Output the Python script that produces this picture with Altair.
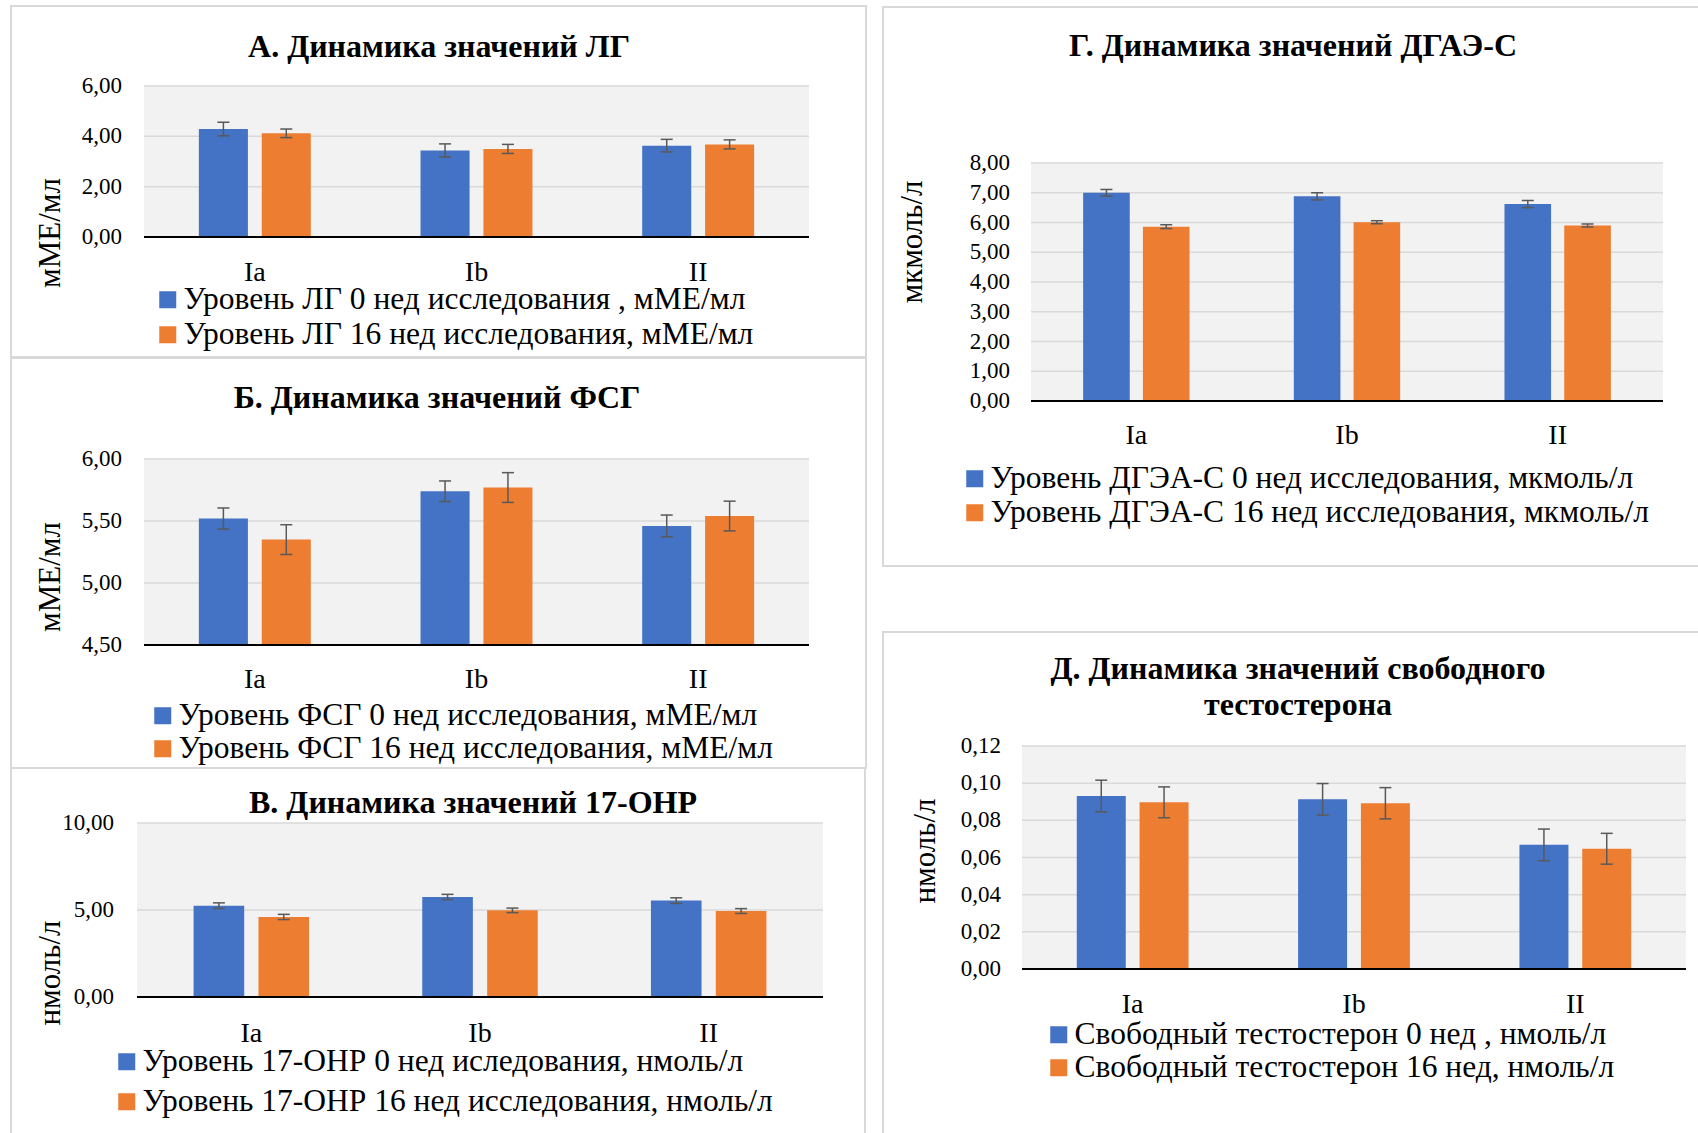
import altair as alt
import pandas as pd

FONT = "Liberation Serif"
BLUE = "#4472C4"
ORANGE = "#ED7D31"
ERR = "#595959"
GRID = "#D9D9D9"
PLOT_BG = "#F2F2F2"
FRAME = "#D9D9D9"

groups = ["Ia", "Ib", "II"]

# А. ЛГ, мМЕ/мл
lh_0 = [4.29, 3.44, 3.63]
lh_16 = [4.12, 3.50, 3.68]
lh_err_0 = [0.27, 0.26, 0.25]
lh_err_16 = [0.17, 0.18, 0.18]
lh_ticks = [0, 2, 4, 6]
lh_tick_labels = ["0,00", "2,00", "4,00", "6,00"]
lh_series = ["Уровень ЛГ 0 нед исследования , мМЕ/мл",
             "Уровень ЛГ 16 нед исследования, мМЕ/мл"]

# Б. ФСГ, мМЕ/мл
fsh_0 = [5.52, 5.74, 5.46]
fsh_16 = [5.35, 5.77, 5.54]
fsh_err_0 = [0.085, 0.083, 0.088]
fsh_err_16 = [0.12, 0.12, 0.12]
fsh_ticks = [4.5, 5.0, 5.5, 6.0]
fsh_tick_labels = ["4,50", "5,00", "5,50", "6,00"]
fsh_series = ["Уровень ФСГ 0 нед исследования, мМЕ/мл",
              "Уровень ФСГ 16 нед исследования, мМЕ/мл"]

# В. 17-ОНР, нмоль/л
ohp_0 = [5.25, 5.75, 5.54]
ohp_16 = [4.60, 4.98, 4.94]
ohp_err_0 = [0.16, 0.15, 0.16]
ohp_err_16 = [0.15, 0.13, 0.14]
ohp_ticks = [0, 5, 10]
ohp_tick_labels = ["0,00", "5,00", "10,00"]
ohp_series = ["Уровень 17-ОНР 0 нед иследования, нмоль/л",
              "Уровень 17-ОНР 16 нед исследования, нмоль/л"]

# Г. ДГЭА-С, мкмоль/л
dhea_0 = [7.00, 6.88, 6.62]
dhea_16 = [5.86, 6.01, 5.90]
dhea_err_0 = [0.11, 0.12, 0.12]
dhea_err_16 = [0.065, 0.05, 0.05]
dhea_ticks = [0, 1, 2, 3, 4, 5, 6, 7, 8]
dhea_tick_labels = ["0,00", "1,00", "2,00", "3,00", "4,00",
                    "5,00", "6,00", "7,00", "8,00"]
dhea_series = ["Уровень ДГЭА-С 0 нед исследования, мкмоль/л",
               "Уровень ДГЭА-С 16 нед исследования, мкмоль/л"]

# Д. Свободный тестостерон, нмоль/л
ft_0 = [0.0931, 0.0913, 0.0668]
ft_16 = [0.0897, 0.0892, 0.0647]
ft_err_0 = [0.0085, 0.0085, 0.0085]
ft_err_16 = [0.0083, 0.0084, 0.0083]
ft_ticks = [0.0, 0.02, 0.04, 0.06, 0.08, 0.10, 0.12]
ft_tick_labels = ["0,00", "0,02", "0,04", "0,06", "0,08", "0,10", "0,12"]
ft_series = ["Свободный тестостерон 0 нед , нмоль/л",
             "Свободный тестостерон 16 нед, нмоль/л"]

# Panel geometry on the page (pixels)
panels = [
    dict(v0=lh_0, v1=lh_16, e0=lh_err_0, e1=lh_err_16, ticks=lh_ticks,
         tick_labels=lh_tick_labels, series=lh_series,
         title=["А. Динамика значений ЛГ"], ytitle="мМЕ/мл",
         frame=(11, 6, 866, 357), plot=(144, 86, 809, 237), tick_x=122,
         title_xy=(439, 57), ytitle_xy=(51, 233), cat_y=281,
         legend_xy=(152, 284), row_pad=2, label_off=0),
    dict(v0=fsh_0, v1=fsh_16, e0=fsh_err_0, e1=fsh_err_16, ticks=fsh_ticks,
         tick_labels=fsh_tick_labels, series=fsh_series,
         title=["Б. Динамика значений ФСГ"], ytitle="мМЕ/мл",
         frame=(11, 358, 866, 768), plot=(144, 459, 809, 645), tick_x=122,
         title_xy=(437, 408), ytitle_xy=(51, 577), cat_y=688,
         legend_xy=(147, 700), row_pad=0, label_off=0),
    dict(v0=ohp_0, v1=ohp_16, e0=ohp_err_0, e1=ohp_err_16, ticks=ohp_ticks,
         tick_labels=ohp_tick_labels, series=ohp_series,
         title=["В. Динамика значений 17-ОНР"], ytitle="нмоль/л",
         frame=(11, 768, 865, 1160), plot=(137, 823, 823, 997), tick_x=114,
         title_xy=(473, 813), ytitle_xy=(51, 973), cat_y=1042,
         legend_xy=(111, 1046), row_pad=7, label_off=0),
    dict(v0=dhea_0, v1=dhea_16, e0=dhea_err_0, e1=dhea_err_16, ticks=dhea_ticks,
         tick_labels=dhea_tick_labels, series=dhea_series,
         title=["Г. Динамика значений ДГАЭ-С"], ytitle="мкмоль/л",
         frame=(883, 7, 1720, 566), plot=(1031, 163, 1663, 401), tick_x=1010,
         title_xy=(1293, 56), ytitle_xy=(913, 242), cat_y=444,
         legend_xy=(959, 463), row_pad=1, label_off=0),
    dict(v0=ft_0, v1=ft_16, e0=ft_err_0, e1=ft_err_16, ticks=ft_ticks,
         tick_labels=ft_tick_labels, series=ft_series,
         title=["Д. Динамика значений свободного", "тестостерона"], ytitle="нмоль/л",
         frame=(883, 632, 1720, 1160), plot=(1022, 746, 1686, 969), tick_x=1001,
         title_xy=(1298, 679), ytitle_xy=(926, 851), cat_y=1013,
         legend_xy=(1043, 1019), row_pad=0, label_off=0),
]

one = pd.DataFrame({"k": [0]})


def build_panel(p):
    n = len(groups)
    df = pd.DataFrame({
        "group": groups * 2,
        "series": [p["series"][0]] * n + [p["series"][1]] * n,
        "value": p["v0"] + p["v1"],
        "err": p["e0"] + p["e1"],
    })
    df["base"] = p["ticks"][0]
    df["lo"] = df["value"] - df["err"]
    df["hi"] = df["value"] + df["err"]

    ticks = pd.DataFrame({"t": p["ticks"], "lab": p["tick_labels"]})
    cats = pd.DataFrame({"group": groups})

    left, top, right, bottom = p["plot"]
    fl, ft, fr, fb = p["frame"]

    xs = alt.Scale(domain=groups, range=[left, right],
                   paddingInner=0.495, paddingOuter=0.2475)
    ys = alt.Scale(domain=[p["ticks"][0], p["ticks"][-1]], range=[bottom, top],
                   nice=False, zero=False)
    offs = alt.Scale(domain=p["series"], paddingInner=0.22, paddingOuter=0)

    X = alt.X("group:N", scale=xs, axis=None)
    XO = alt.XOffset("series:N", scale=offs)

    frame = alt.Chart(one).mark_rect(
        fillOpacity=0, stroke=FRAME, strokeWidth=2
    ).encode(x=alt.value(fl), x2=alt.value(fr), y=alt.value(ft), y2=alt.value(fb))

    bg = alt.Chart(one).mark_rect(color=PLOT_BG).encode(
        x=alt.value(left), x2=alt.value(right), y=alt.value(top), y2=alt.value(bottom))

    grid = alt.Chart(ticks).mark_rule(color=GRID, strokeWidth=1.5).encode(
        y=alt.Y("t:Q", scale=ys, axis=None), x=alt.value(left), x2=alt.value(right))

    bars = alt.Chart(df).mark_bar().encode(
        x=X, xOffset=XO,
        y=alt.Y("value:Q", scale=ys, axis=None), y2="base:Q",
        color=alt.Color(
            "series:N",
            scale=alt.Scale(domain=p["series"], range=[BLUE, ORANGE]),
            legend=alt.Legend(
                orient="none", legendX=p["legend_xy"][0], legendY=p["legend_xy"][1],
                title=None, symbolType="square", symbolSize=289,
                symbolStrokeWidth=0, symbolOpacity=1, labelFont=FONT,
                labelFontSize=31.5, labelColor="black", labelOffset=p["label_off"],
                rowPadding=p["row_pad"], padding=0, labelLimit=2000,
            ),
        ),
    )

    whisk = alt.Chart(df).mark_rule(color=ERR, strokeWidth=1.5).encode(
        x=X, xOffset=XO, y=alt.Y("lo:Q", scale=ys, axis=None), y2="hi:Q")
    cap_hi = alt.Chart(df).mark_tick(
        color=ERR, thickness=1.5, size=12, orient="horizontal", opacity=1
    ).encode(x=X, xOffset=XO, y=alt.Y("hi:Q", scale=ys, axis=None))
    cap_lo = alt.Chart(df).mark_tick(
        color=ERR, thickness=1.5, size=12, orient="horizontal", opacity=1
    ).encode(x=X, xOffset=XO, y=alt.Y("lo:Q", scale=ys, axis=None))

    baseline = alt.Chart(ticks.head(1)).mark_rule(color="black", strokeWidth=2).encode(
        y=alt.Y("t:Q", scale=ys, axis=None), x=alt.value(left), x2=alt.value(right))

    tick_text = alt.Chart(ticks).mark_text(
        align="right", baseline="middle", font=FONT, fontSize=23, color="black"
    ).encode(y=alt.Y("t:Q", scale=ys, axis=None), x=alt.value(p["tick_x"]), text="lab:N")

    cat_text = alt.Chart(cats).mark_text(
        align="center", baseline="alphabetic", font=FONT, fontSize=28, color="black"
    ).encode(x=X, y=alt.value(p["cat_y"]), text="group:N")

    title_text = p["title"] if len(p["title"]) > 1 else p["title"][0]
    title = alt.Chart(one).mark_text(
        text=title_text, align="center", baseline="alphabetic", font=FONT,
        fontSize=32, fontWeight="bold", lineHeight=36, color="black"
    ).encode(x=alt.value(p["title_xy"][0]), y=alt.value(p["title_xy"][1]))

    ytitle = alt.Chart(one).mark_text(
        text=p["ytitle"], align="center", baseline="middle", angle=270, font=FONT,
        fontSize=31, color="black"
    ).encode(x=alt.value(p["ytitle_xy"][0]), y=alt.value(p["ytitle_xy"][1]))

    return alt.layer(frame, bg, grid, bars, whisk, cap_hi, cap_lo, baseline,
                     tick_text, cat_text, title, ytitle)


chart = alt.layer(*[build_panel(p) for p in panels]).resolve_scale(
    x="independent", y="independent", xOffset="independent", color="independent"
).properties(
    width=1698, height=1133,
    autosize=alt.AutoSizeParams(type="none"),
    padding=0,
    background="white",
).configure_view(stroke=None)

chart.save("out.html", embed_options={"renderer": "svg", "actions": False})
